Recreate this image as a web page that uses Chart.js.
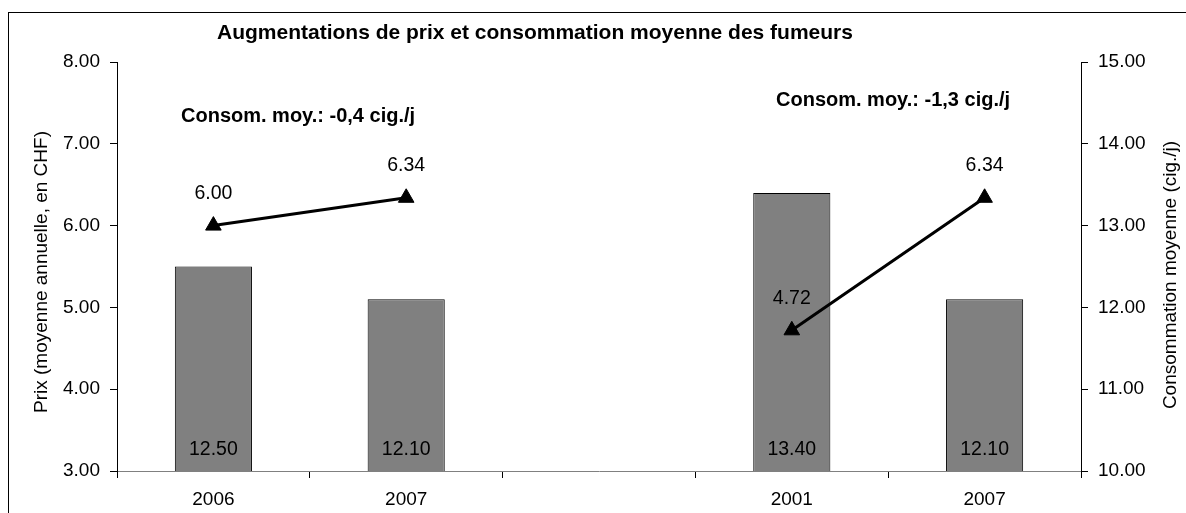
<!DOCTYPE html>
<html><head><meta charset="utf-8">
<script src="https://cdn.jsdelivr.net/npm/chart.js@4"></script>
<style>html,body{margin:0;padding:0;background:#fff}#wrap{width:1186px;height:513px}</style>
</head><body><div id="wrap"><canvas id="c" width="1186" height="513"></canvas></div>
<script>
const categories = ['2006', '2007', '', '2001', '2007'];
const prixValues = [6.00, 6.34, null, 4.72, 6.34];
const consoValues = [12.50, 12.10, null, 13.40, 12.10];
const titleText = 'Augmentations de prix et consommation moyenne des fumeurs';
const annotationTexts = ['Consom. moy.: -0,4 cig./j', 'Consom. moy.: -1,3 cig./j'];
const leftAxisTitle = 'Prix (moyenne annuelle, en CHF)';
const rightAxisTitle = 'Consommation moyenne (cig./j)';

const FONT = '"Liberation Sans", Arial, sans-serif';

const decor = {
  id: 'decor',
  afterDraw(chart) {
    const ctx = chart.ctx;
    ctx.save();
    // frame
    ctx.strokeStyle = '#000'; ctx.lineWidth = 1;
    ctx.strokeRect(8.5, 12.5, 1300, 700);
    ctx.fillStyle = '#000';
    // title
    ctx.font = 'bold 21px ' + FONT;
    ctx.textAlign = 'left'; ctx.textBaseline = 'alphabetic';
    ctx.fillText(titleText, 217, 39);
    // annotations
    ctx.font = 'bold 20px ' + FONT;
    ctx.fillText(annotationTexts[0], 181, 122);
    ctx.fillText(annotationTexts[1], 776, 105.5);
    // axis titles
    ctx.font = '19px ' + FONT;
    ctx.textAlign = 'center';
    ctx.save(); ctx.translate(46.5, 272); ctx.rotate(-Math.PI / 2);
    ctx.fillText(leftAxisTitle, 0, 0); ctx.restore();
    ctx.save(); ctx.translate(1176, 275); ctx.rotate(-Math.PI / 2);
    ctx.fillText(rightAxisTitle, 0, 0); ctx.restore();
    // data labels
    ctx.font = '19.5px ' + FONT;
    ctx.textBaseline = 'middle';
    chart.getDatasetMeta(0).data.forEach((el, i) => {
      const v = prixValues[i];
      if (v == null) return;
      ctx.fillText(v.toFixed(2), el.x, el.y - 32);
    });
    const baseY = chart.scales.y1.getPixelForValue(chart.scales.y1.min);
    chart.getDatasetMeta(1).data.forEach((el, i) => {
      const v = consoValues[i];
      if (v == null) return;
      ctx.fillText(v.toFixed(2), el.x, baseY - 21);
    });
    ctx.restore();
  }
};

new Chart(document.getElementById('c'), {
  data: {
    labels: categories,
    datasets: [
      {
        type: 'line', label: 'Prix', data: prixValues, yAxisID: 'y', order: 0,
        borderColor: '#000', borderWidth: 3, spanGaps: false,
        pointStyle: 'triangle', pointRadius: 9, pointBackgroundColor: '#000', pointBorderColor: '#000',
        pointBorderWidth: 1
      },
      {
        type: 'bar', label: 'Consommation', data: consoValues, yAxisID: 'y1', order: 1,
        backgroundColor: '#808080', borderColor: '#000', borderWidth: 1, borderSkipped: false,
        barPercentage: 0.4, categoryPercentage: 1
      }
    ]
  },
  options: {
    responsive: false, animation: false, devicePixelRatio: 1,
    layout: { padding: { left: 0, right: 0, top: 62, bottom: 0 } },
    plugins: { legend: { display: false }, tooltip: { enabled: false }, title: { display: false } },
    scales: {
      x: {
        type: 'category', offset: true,
        grid: { offset: true, drawOnChartArea: false, tickLength: 7, color: '#000' },
        border: { color: '#808080', width: 1 },
        ticks: { color: '#000', font: { family: FONT, size: 19 }, padding: 10, maxRotation: 0 },
        afterFit(s) { s.height = 42; }
      },
      y: {
        position: 'left', min: 3, max: 8,
        grid: { drawOnChartArea: false, tickLength: 7, color: '#000' },
        border: { color: '#000', width: 1 },
        ticks: { stepSize: 1, color: '#000', font: { family: FONT, size: 19 }, padding: 10,
                 callback: v => Number(v).toFixed(2) },
        afterFit(s) { s.width = 117; }
      },
      y1: {
        position: 'right', min: 10, max: 15,
        grid: { drawOnChartArea: false, tickLength: 7, color: '#000' },
        border: { color: '#000', width: 1 },
        ticks: { stepSize: 1, color: '#000', font: { family: FONT, size: 19 }, padding: 10,
                 callback: v => Number(v).toFixed(2) },
        afterFit(s) { s.width = 105; }
      }
    }
  },
  plugins: [decor]
});
</script>
</body></html>
